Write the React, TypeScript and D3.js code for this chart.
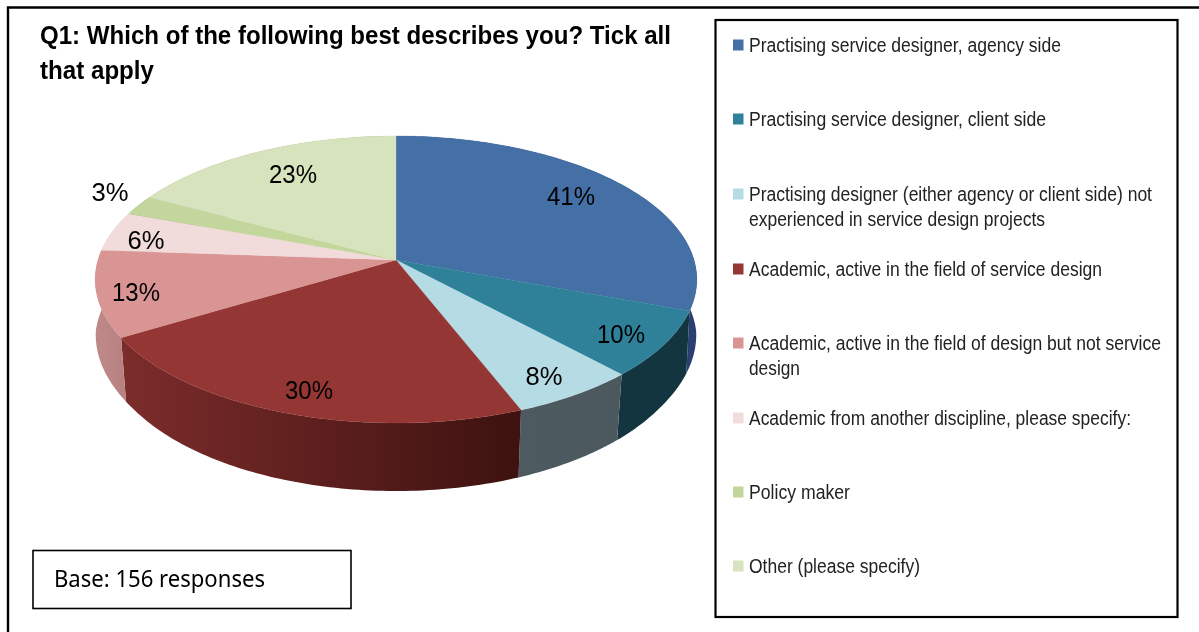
import React from "react";
import * as d3 from "d3";

// ---- data ----
const categories = [
  "Practising service designer, agency side",
  "Practising service designer, client side",
  "Practising designer (either agency or client side) not experienced in service design projects",
  "Academic, active in the field of service design",
  "Academic, active in the field of design but not service design",
  "Academic from another discipline, please specify:",
  "Policy maker",
  "Other (please specify)",
];
const values = [41, 10, 8, 30, 13, 6, 3, 23];
const titleLines = ["Q1: Which of the following best describes you? Tick all", "that apply"];
const baseNote = "Base: 156 responses";

// ---- styling and layout ----
const topColors = ["#4570a6", "#2e8199", "#b5dbe5", "#943634", "#d99594", "#f2dbdb", "#c3d69b", "#d6e3bc"];
const wallFrom = ["#2d4777", "#14353f", "#4d5b60", "#7c2c2b", "#bd8888", "#c0a8a8", "#8a9a6c", "#98a285"];
const wallTo = ["#2a3f70", "#123540", "#4b595e", "#3d1210", "#b98282", "#c0a8a8", "#8a9a6c", "#98a285"];
const labelXs = [571, 621, 544, 309, 136, 146, 110, 293];
const labelYs = [196, 334, 376, 390, 292, 240, 192, 174];
const legendLineWidths = [[312], [297], [403, 296], [353], [412, 51], [382], [101], [171]];
const legendLineY = [[45], [119], [194, 219], [269], [343, 368], [418], [492], [566]];
const legendBreaks = [
  [categories[0]],
  [categories[1]],
  ["Practising designer (either agency or client side) not", "experienced in service design projects"],
  [categories[3]],
  ["Academic, active in the field of design but not service", "design"],
  [categories[5]],
  [categories[6]],
  [categories[7]],
];

// Perspective projection of the pie plane onto the screen.
const apexX = 396;
const apexY = 260;
const persp = 0.136;
const xScale = d3.scaleLinear().domain([-1, 1]).range([apexX - 298, apexX + 298]);
const yScale = d3.scaleLinear().domain([-1, 1]).range([apexY + 140.85, apexY - 140.85]);
const depthScale = d3.scaleLinear().domain([340, 423]).range([64, 68]);
const shrinkScale = d3.scaleLinear().domain([270, 345]).range([1, 0.98]).clamp(true);

const project = (a: number, r = 1): [number, number] => {
  const u = r * Math.sin(a);
  const v = r * Math.cos(a);
  const w = 1 + persp * v;
  return [xScale(u / w), yScale(v / w)];
};
const projectLow = (a: number): [number, number] => {
  const [x, y] = project(a);
  return [apexX + (x - apexX) * shrinkScale(y), y + depthScale(y)];
};
const samples = (a0: number, a1: number) => {
  const n = Math.max(2, Math.ceil((a1 - a0) / (Math.PI / 180)));
  return d3.range(n + 1).map((i) => a0 + ((a1 - a0) * i) / n);
};

const slices = d3.pie<number>().sort(null).value((d) => d)(values);
const line = d3.line();
const topPath = (a0: number, a1: number) =>
  line([[apexX, apexY], ...samples(a0, a1).map((a) => project(a))])! + "Z";
const wallPath = (a0: number, a1: number) => {
  const s = samples(a0, a1);
  return line([...s.map((a) => project(a)), ...s.slice().reverse().map((a) => projectLow(a))])! + "Z";
};

const sans = "'Liberation Sans', Arial, sans-serif";

export default function App() {
  return (
    <svg
      width={1199}
      height={632}
      viewBox="0 0 1199 632"
      style={{ position: "fixed", left: 0, top: 0, background: "#fff" }}
    >
      <defs>
        <filter id="soft" x="-5%" y="-20%" width="110%" height="140%">
          <feGaussianBlur stdDeviation="0.45" />
        </filter>
        {slices.map((s, i) => {
          const p0 = project(s.startAngle);
          const p1 = project(s.endAngle);
          return (
            <linearGradient
              key={i}
              id={`wall${i}`}
              gradientUnits="userSpaceOnUse"
              x1={Math.min(p0[0], p1[0])}
              x2={Math.max(p0[0], p1[0])}
              y1={0}
              y2={0}
            >
              <stop offset="0" stopColor={wallFrom[i]} />
              <stop offset="1" stopColor={wallTo[i]} />
            </linearGradient>
          );
        })}
      </defs>

      {/* outer frame */}
      <path d="M1199 7.5H8V632" fill="none" stroke="#000" strokeWidth={2.4} />

      {/* title */}
      <g fontFamily={sans} fontWeight={700} fontSize={26.5} fill="#000" filter="url(#soft)">
        <text x={40} y={44} textLength={631} lengthAdjust="spacingAndGlyphs">{titleLines[0]}</text>
        <text x={40} y={79} textLength={114} lengthAdjust="spacingAndGlyphs">{titleLines[1]}</text>
      </g>

      {/* pie walls */}
      <g>
        {slices.map((s, i) => (
          <path key={i} d={wallPath(s.startAngle, s.endAngle)} fill={`url(#wall${i})`} />
        ))}
      </g>
      {/* pie top */}
      <g>
        {slices.map((s, i) => (
          <path key={i} d={topPath(s.startAngle, s.endAngle)} fill={topColors[i]} stroke={topColors[i]} strokeWidth={0.3} />
        ))}
      </g>

      {/* data labels */}
      <g fontFamily={sans} fontSize={25} fill="#000" textAnchor="middle" filter="url(#soft)">
        {values.map((v, i) => (
          <text key={i} x={labelXs[i]} y={labelYs[i]} dy="0.36em" textLength={v < 10 ? 37 : 48} lengthAdjust="spacingAndGlyphs">
            {v}%
          </text>
        ))}
      </g>

      {/* base note */}
      <rect x={33} y={550.5} width={318} height={58} fill="#fff" stroke="#000" strokeWidth={1.6} />
      <text x={54} y={587} fontFamily="'Noto Sans', sans-serif" fontSize={23} fill="#000" textLength={211} lengthAdjust="spacingAndGlyphs" filter="url(#soft)">
        {baseNote}
      </text>

      {/* legend */}
      <rect x={715.5} y={20} width={462} height={597} fill="#fff" stroke="#000" strokeWidth={2.2} />
      {categories.map((_, i) => (
        <g key={i}>
          <rect x={733} y={legendLineY[i][0] - 5.5} width={10.5} height={11} fill={topColors[i]} />
          {legendBreaks[i].map((t, j) => (
            <text
              key={j}
              transform={`translate(749,${legendLineY[i][j] + 7}) scale(1,1.11)`}
              fontFamily={sans}
              fontSize={18}
              fill="#222"
              textLength={legendLineWidths[i][j]}
              lengthAdjust="spacingAndGlyphs"
              filter="url(#soft)"
            >
              {t}
            </text>
          ))}
        </g>
      ))}
    </svg>
  );
}
